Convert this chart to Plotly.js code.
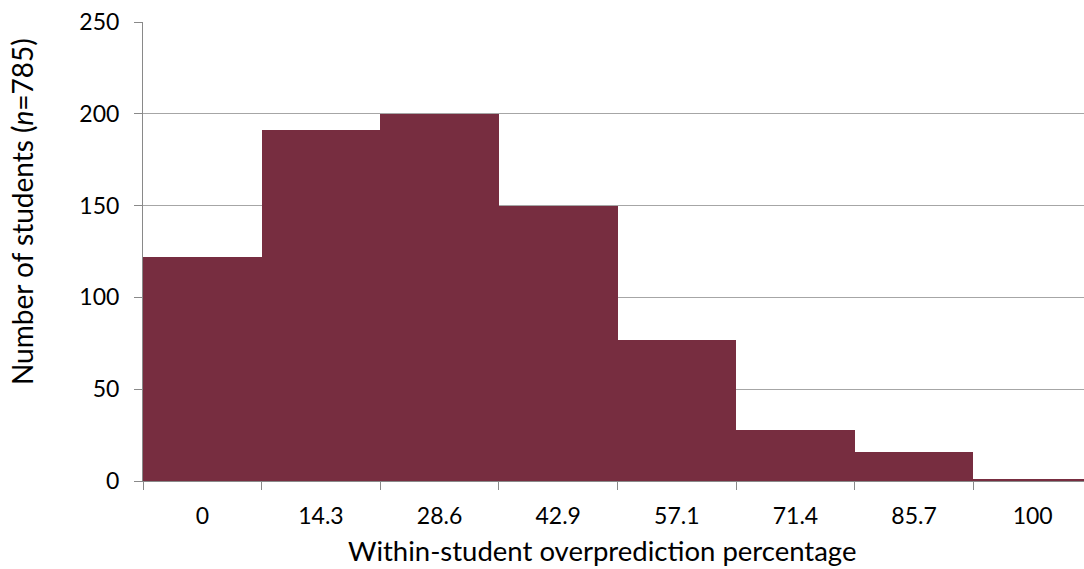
<!DOCTYPE html>
<html>
<head>
<meta charset="utf-8">
<script src="https://cdn.plot.ly/plotly-3.0.1.min.js"></script>
<style>
html,body{margin:0;padding:0;overflow:hidden;background:#fff;}
#chart{width:1092px;height:569px;}
</style>
</head>
<body>
<div id="chart"></div>
<script>
const categories = ["0", "14.3", "28.6", "42.9", "57.1", "71.4", "85.7", "100"];
const students = [122, 191, 200, 150, 77, 28, 16, 1];
const yTicks = [0, 50, 100, 150, 200, 250];
const xTitle = "Within-student overprediction percentage";
const yTitle = "Number of students (<i>n</i>=785)";

const FONT = "Lato, 'Open Sans', sans-serif";
const trace = {
  type: "bar",
  x: categories,
  y: students,
  marker: {color: "#772D40", line: {width: 0}},
  hoverinfo: "x+y"
};
const layout = {
  width: 1092,
  height: 569,
  margin: {l: 143, r: 0, t: 22, b: 88},
  paper_bgcolor: "#fff",
  plot_bgcolor: "#fff",
  bargap: 0,
  showlegend: false,
  font: {family: FONT, color: "#000", size: 23},
  xaxis: {
    type: "category",
    tickson: "boundaries",
    ticks: "outside",
    ticklen: 8,
    tickcolor: "#898989",
    tickwidth: 1,
    ticklabelstandoff: 14,
    showline: true,
    linecolor: "#898989",
    linewidth: 1,
    showgrid: false,
    tickfont: {family: FONT, size: 23, color: "#000"}
  },
  yaxis: {
    range: [0, 250],
    tickvals: yTicks,
    ticks: "outside",
    ticklen: 8,
    tickcolor: "#898989",
    ticklabelstandoff: 10,
    showline: true,
    linecolor: "#898989",
    linewidth: 1,
    showgrid: true,
    gridcolor: "#A6A6A6",
    gridwidth: 1,
    zeroline: false,
    tickfont: {family: FONT, size: 23, color: "#000"}
  },
  annotations: [
    {text: xTitle, xref: "paper", yref: "paper", x: 0.4837, y: -0.1517,
     xanchor: "center", yanchor: "middle", showarrow: false,
     font: {family: FONT, size: 27.5, color: "#000"}},
    {text: yTitle, xref: "paper", yref: "paper", x: -0.1275, y: 0.586,
     xanchor: "center", yanchor: "middle", textangle: -90, showarrow: false,
     font: {family: FONT, size: 28, color: "#000"}}
  ]
};
Plotly.newPlot("chart", [trace], layout, {displayModeBar: false, staticPlot: true});
</script>
</body>
</html>
